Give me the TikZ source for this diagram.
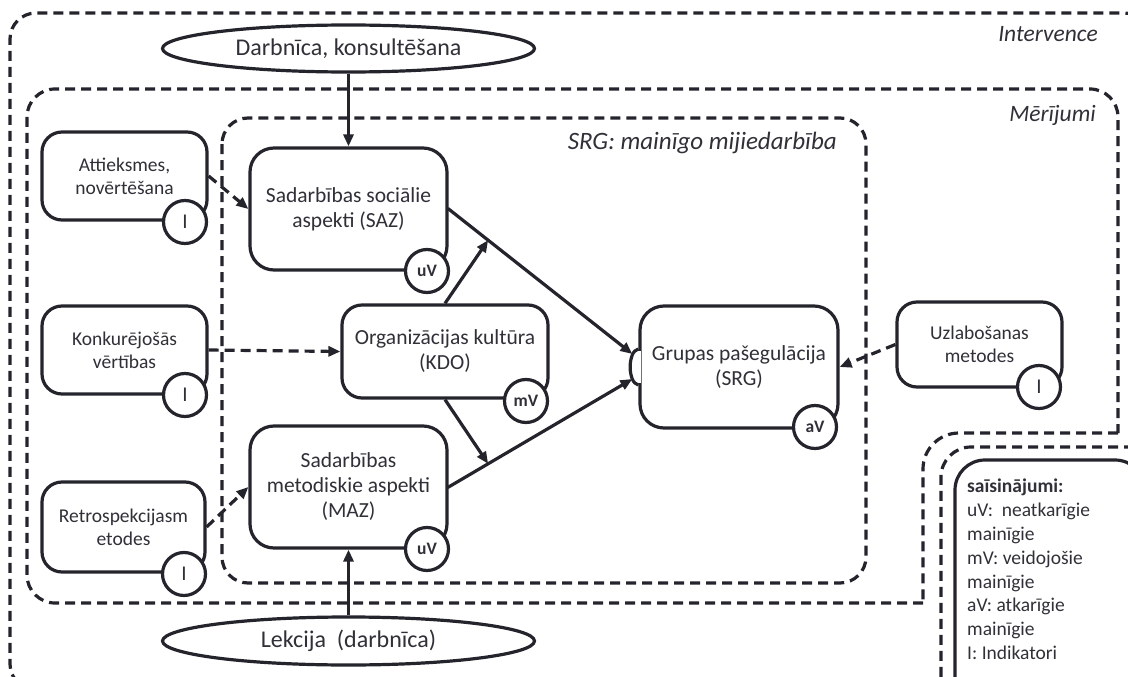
\documentclass[tikz,border=0pt]{standalone}
\usepackage{fontspec}
\setmainfont{Carlito}
\usetikzlibrary{arrows.meta,calc,shapes.geometric}
\definecolor{ink}{RGB}{36,36,44}
\definecolor{txt}{RGB}{48,48,56}
\begin{document}
\begin{tikzpicture}[x=1pt,y=-1pt,
  every node/.style={text=txt},
  box/.style={draw=ink, line width=3.2pt, rounded corners=20pt, fill=white, align=center, inner sep=0pt},
  bigtxt/.style={font=\fontsize{21.5}{25}\selectfont},
  smalltxt/.style={font=\fontsize{19.5}{23}\selectfont},
  tag/.style={draw=ink, circle, line width=3.2pt, fill=white, minimum size=43pt, inner sep=0pt, font=\bfseries\fontsize{17.5}{17.5}\selectfont},
  itag/.style={tag, font=\fontsize{21}{21}\selectfont},
  oval/.style={draw=ink, ellipse, line width=3.2pt, fill=white, inner sep=0pt, font=\fontsize{24}{24}\selectfont},
  frame/.style={draw=ink, line width=3.2pt, dash pattern=on 10pt off 6pt},
  arr/.style={draw=ink, line width=3.2pt, -{Triangle[length=12pt,width=10pt]}},
  darr/.style={arr, dash pattern=on 10pt off 6pt},
  lbl/.style={anchor=east, inner sep=0pt, font=\itshape\fontsize{23.5}{23.5}\selectfont},
]
\useasboundingbox (0,0) rectangle (1128,677);
\clip (0,0) rectangle (1128,677);

% Intervence frame (with notch for the legend)
\draw[frame, rounded corners=26pt] (960,690) -- (10,690) -- (10,13) -- (1150,13) -- (1150,470);
\draw[frame, rounded corners=30pt] (1150,447) -- (941,447) -- (941,700);
% Merijumi frame
\draw[frame, rounded corners=28pt] (923,603) -- (27,603) -- (27,89) -- (1118,89) -- (1118,433);
\draw[frame, rounded corners=36pt] (1118,433) -- (923,433) -- (923,603);
% SRG frame
\draw[frame, rounded corners=26pt] (222,118) rectangle (866,583);

% labels of the frames
\node[lbl] (intlbl) at (1098,34) {Intervence};
\node[lbl] (merlbl) at (1096,115) {Mērījumi};
\node[lbl, font=\itshape\fontsize{25}{25}\selectfont] (srglbl) at (837,143) {SRG: mainīgo mijiedarbība};

% legend
\draw[draw=ink, line width=3.2pt, rounded corners=30pt] (955,460) rectangle (1145,730);
\node[anchor=north west, inner sep=0pt, align=left, font=\fontsize{19.5}{23.8}\selectfont] (legend) at (967,479)
  {\textbf{saīsinājumi:}\\uV:\ \ neatkarīgie\\mainīgie\\mV: veidojošie\\mainīgie\\aV: atkarīgie\\mainīgie\\I: Indikatori};

% ellipses
\node[oval, minimum width=372pt, minimum height=47pt] (darb) at (348.5,48.5) {Darbnīca, konsultēšana};
\node[oval, minimum width=372pt, minimum height=48pt] (lek) at (348.5,641) {Lekcija\ \ (darbnīca)};

% main boxes
\node[box, bigtxt, rounded corners=24pt, minimum width=197pt, minimum height=122pt] (saz) at (348.5,209) {Sadarbības sociālie\\aspekti (SAZ)};
\node[box, bigtxt, minimum width=206pt, minimum height=93pt] (kdo) at (445,351.5) {Organizācijas kultūra\\(KDO)};
\node[box, bigtxt, rounded corners=24pt, minimum width=197pt, minimum height=122pt] (maz) at (348.5,487) {Sadarbības\\metodiskie aspekti\\(MAZ)};
\node[box, bigtxt, rounded corners=24pt, minimum width=198pt, minimum height=122pt] (srg) at (739,367) {Grupas pašegulācija\\(SRG)};

% indicator boxes
\node[box, smalltxt, minimum width=165pt, minimum height=88pt] (att) at (124.5,176) {Attieksmes,\\novērtēšana};
\node[box, smalltxt, minimum width=165pt, minimum height=88pt] (konk) at (124.5,350) {Konkurējošās\\vērtības};
\node[box, smalltxt, minimum width=163pt, minimum height=90pt] (retro) at (123.5,527) {Retrospekcijasm\\etodes};
\node[box, smalltxt, minimum width=165pt, minimum height=85pt] (uzl) at (979.5,344.5) {Uzlabošanas\\metodes};

% bulge on the left side of SRG
\draw[white, line width=4.5pt] ($(srg.west)+(0,-16)$) -- ($(srg.west)+(0,16)$);
\draw[draw=ink, line width=3.2pt] ($(srg.west)+(0,-18)$) .. controls ($(srg.west)+(-11,-16)$) and ($(srg.west)+(-11,16)$) .. ($(srg.west)+(0,18)$);
\coordinate (b1) at ($(srg.west)+(-6,-13)$);
\coordinate (b2) at ($(srg.west)+(-6,12)$);

% connectors
\draw[arr] (darb.south) -- (saz.north);
\draw[arr] (lek.north) -- (maz.south);
\draw[arr, shorten <=-1pt] (saz.east) -- (b1);
\draw[arr, shorten <=-1pt] (maz.east) -- (b2);
\coordinate (m1) at ($(saz.east)!0.215!(b1)$);
\coordinate (m2) at ($(maz.east)!0.215!(b2)$);
\draw[arr] (kdo.north) -- (m1);
\draw[arr] (kdo.south) -- (m2);
\draw[darr] (att.east) -- (saz.west);
\draw[darr] (konk.east) -- (kdo.west);
\draw[darr] (retro.east) -- (maz.west);
\draw[darr] (uzl.west) -- (srg.east);

% tags
\node[tag] (t1) at (427,271) {uV};
\node[tag] (t2) at (427,549) {uV};
\node[tag] (t3) at (526,401) {mV};
\node[tag] (t4) at (815,427) {aV};
\node[itag] (i1) at (185,222) {I};
\node[itag] (i2) at (185,395) {I};
\node[itag] (i3) at (184,574) {I};
\node[itag] (i4) at (1039,387) {I};
\end{tikzpicture}
\end{document}
